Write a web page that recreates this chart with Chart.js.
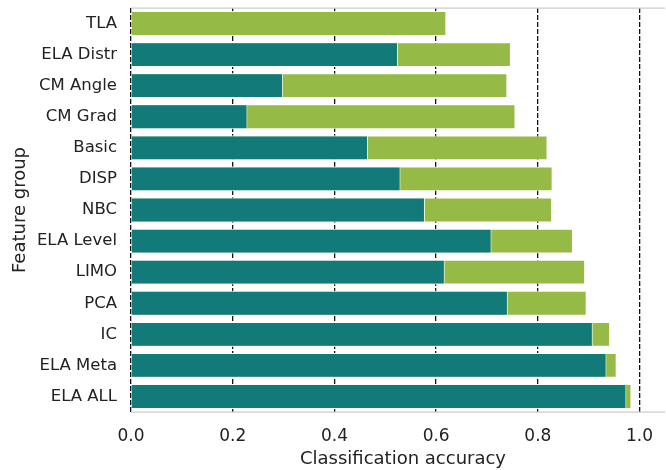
<!DOCTYPE html>
<html>
<head>
<meta charset="utf-8">
<script src="https://cdn.jsdelivr.net/npm/chart.js@4"></script>
<style>
  html, body { margin: 0; padding: 0; background: #fff; }
  #wrap { width: 666px; height: 470px; }
</style>
</head>
<body>
<div id="wrap"><canvas id="c" width="666" height="470"></canvas></div>
<script>
const featureGroups = ['TLA', 'ELA Distr', 'CM Angle', 'CM Grad', 'Basic', 'DISP', 'NBC',
  'ELA Level', 'LIMO', 'PCA', 'IC', 'ELA Meta', 'ELA ALL'];
// accuracy of the single group (drawn in front)
const groupAccuracy = [null, 0.525, 0.299, 0.229, 0.466, 0.530, 0.578,
  0.709, 0.617, 0.741, 0.908, 0.935, 0.974];
// accuracy reached when the group is combined (drawn behind)
const combinedAccuracy = [0.620, 0.747, 0.740, 0.756, 0.819, 0.829, 0.828,
  0.869, 0.893, 0.896, 0.942, 0.955, 0.984];
const xTicks = [0, 0.2, 0.4, 0.6, 0.8, 1.0];
const xTitle = 'Classification accuracy';

const FONT = '"DejaVu Sans", sans-serif';

// light top and bottom frame lines, plus the x-axis title
const frame = {
  id: 'frame',
  afterDraw(chart) {
    const { ctx, chartArea: a } = chart;
    ctx.save();
    ctx.strokeStyle = '#cccccc';
    ctx.lineWidth = 1.25;
    ctx.beginPath();
    ctx.moveTo(a.left, a.top); ctx.lineTo(a.right, a.top);
    ctx.moveTo(a.left, a.bottom); ctx.lineTo(a.right, a.bottom);
    ctx.stroke();
    ctx.fillStyle = '#222';
    ctx.font = '18px ' + FONT;
    ctx.textAlign = 'center';
    ctx.textBaseline = 'middle';
    ctx.fillText(xTitle, a.left + 272, 459);
    ctx.restore();
  }
};

new Chart(document.getElementById('c'), {
  type: 'bar',
  data: {
    labels: featureGroups,
    datasets: [
      {
        label: 'Group',
        data: groupAccuracy,
        backgroundColor: '#137a7a',
        borderColor: 'rgba(255,255,255,0.85)',
        borderWidth: 1,
        grouped: false,
        barPercentage: 0.8,
        categoryPercentage: 1.0
      },
      {
        label: 'Combined',
        data: combinedAccuracy,
        backgroundColor: '#95ba46',
        borderColor: 'rgba(255,255,255,0.85)',
        borderWidth: 1,
        grouped: false,
        barPercentage: 0.8,
        categoryPercentage: 1.0
      }
    ]
  },
  options: {
    indexAxis: 'y',
    responsive: false,
    animation: false,
    devicePixelRatio: 1,
    layout: { padding: { top: 8, right: 1, left: 0, bottom: 0 } },
    plugins: { legend: { display: false }, tooltip: { enabled: false } },
    scales: {
      x: {
        min: 0,
        max: 1.05,
        afterBuildTicks(scale) {
          scale.ticks = xTicks.map(v => ({ value: v }));
        },
        afterFit(scale) {
          scale.height = 58;
          scale.paddingLeft = 0; scale.paddingRight = 0;
        },
        grid: {
          display: true,
          color: '#111',
          lineWidth: 1.3,
          drawTicks: false
        },
        border: { display: false, dash: [5, 2] },
        ticks: {
          color: '#222',
          font: { family: FONT, size: 17 },
          padding: 14,
          callback: v => Number(v).toFixed(1)
        },
        title: { display: false }
      },
      y: {
        afterFit(scale) {
          scale.width = 131;
          scale.paddingTop = 0; scale.paddingBottom = 0;
        },
        grid: { display: false, drawTicks: false },
        border: { display: false },
        ticks: {
          color: '#222',
          font: { family: FONT, size: 16.5 },
          padding: 14
        },
        title: {
          display: true,
          text: 'Feature group',
          color: '#222',
          font: { family: FONT, size: 18 },
          padding: { top: 10, bottom: 2 }
        }
      }
    }
  },
  plugins: [frame]
});
</script>
</body>
</html>
